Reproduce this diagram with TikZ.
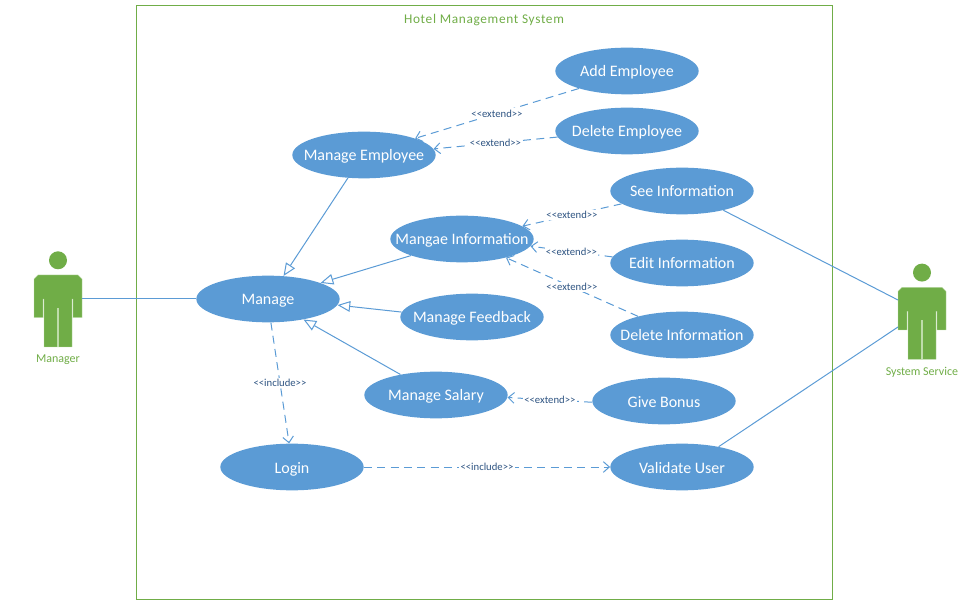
\documentclass[tikz,border=0pt]{standalone}
\usepackage{fontspec}
\setmainfont{Carlito}
\usepackage{xcolor}
\usetikzlibrary{shapes,arrows.meta,positioning,calc}
\definecolor{usecase}{RGB}{91,155,213}
\definecolor{actor}{RGB}{112,173,71}
\definecolor{actorpale}{RGB}{190,220,170}
\definecolor{stereo}{RGB}{46,84,130}
\tikzset{
  pics/actor/.style={code={
    \fill[actor] (0,-50.7) circle (9);
    \fill[actor,draw=actorpale,line width=0.3pt] (-20,-36) -- (20,-36) -- (24,-32) -- (24,6.7) -- (15,6.7) -- (15,-12) -- (14,-12) -- (14,36) -- (-14,36) -- (-14,-12) -- (-15,-12) -- (-15,6.7) -- (-24,6.7) -- (-24,-32) -- cycle;
    \draw[actorpale,line width=1pt] (0,-3) -- (0,36);
    \coordinate (-hand) at (24,-12);
    \coordinate (-upper) at (-24,-23.3);
    \coordinate (-lower) at (-24,3.7);
  }}
}
\begin{document}
\begin{tikzpicture}[x=0.75pt,y=-0.75pt,
  case/.style={ellipse,fill=usecase,text=white,inner xsep=-30pt,inner ysep=0pt,minimum width=107.5pt,minimum height=35pt,text height=10.5pt,text depth=1.5pt,font=\fontsize{12}{14}\selectfont},
  assoc/.style={usecase,line width=0.75pt},
  general/.style={assoc,-{Triangle[open,fill=white,length=9.5pt,width=8pt]}},
  extend/.style={assoc,dash pattern=on 6pt off 4pt,-{Straight Barb[length=4.5pt,width=8pt]}},
  stereotype/.style={fill=white,text=stereo,inner sep=1pt,font=\fontsize{8}{9}\selectfont},
  actorname/.style={text=actor,inner sep=0pt,font=\fontsize{9}{10}\selectfont}]
\useasboundingbox (0,0) rectangle (970,605);
\draw[actor,line width=0.75pt] (136.5,5.5) rectangle (832.5,599.5);
\node[text=actor,inner sep=0pt,font=\fontsize{10}{12}\selectfont,align=center] (title) at (484,20.5) {\addfontfeature{LetterSpace=5}Hotel Management System};

\pic (manager) at (58,311) {actor};
\pic (service) at (922,323.3) {actor};
\node[actorname] (managername) at (58,360) {Manager};
\node[actorname] (servicename) at (922,372) {System Service};

\node[case] (addemp) at (627,71) {Add Employee};
\node[case] (delemp) at (627,131) {Delete Employee};
\node[case] (mgemp) at (364,155) {Manage Employee};
\node[case] (seeinfo) at (682,191) {See Information};
\node[case] (editinfo) at (682,263) {Edit Information};
\node[case] (delinfo) at (682,335) {Delete Information};
\node[case] (mginfo) at (462,239) {Mangae Information};
\node[case] (manage) at (268,299) {Manage};
\node[case] (mgfeed) at (472,317) {Manage Feedback};
\node[case] (mgsalary) at (436,395) {Manage Salary};
\node[case] (bonus) at (664,401) {Give Bonus};
\node[case] (login) at (292,467) {Login};
\node[case] (validate) at (682,467) {Validate User};

\draw[assoc] (manager-hand) -- (manage.west);
\draw[assoc] (seeinfo.335) -- (service-upper);
\draw[assoc] (validate.29) -- (service-lower);

\draw[general] (mgemp.235) -- (manage.56);
\draw[general] (mginfo.198) -- (manage.17);
\draw[general] (mgfeed.176) -- (manage.355);
\draw[general] (mgsalary.150) -- (manage.330);

\draw[extend] (addemp.200) -- node[stereotype] (lbla) {<{}<extend>{}>} (mgemp.18);
\draw[extend] (delemp.185) -- node[stereotype] (lblb) {<{}<extend>{}>} (mgemp.5);
\draw[extend] (seeinfo.192) -- node[stereotype] (lblc) {<{}<extend>{}>} (mginfo.12);
\draw[extend] (editinfo.175) -- node[stereotype] (lbld) {<{}<extend>{}>} (mginfo.354);
\draw[extend] (delinfo.157) -- node[stereotype] (lble) {<{}<extend>{}>} (mginfo.337);
\draw[extend] (bonus.181) -- node[stereotype] (lblf) {<{}<extend>{}>} (mgsalary.358);
\draw[extend] (manage.277) -- node[stereotype] (lblg) {<{}<include>{}>} (login.97);
\draw[extend] (login.east) -- node[stereotype] (lblh) {<{}<include>{}>} (validate.west);
\end{tikzpicture}
\end{document}
